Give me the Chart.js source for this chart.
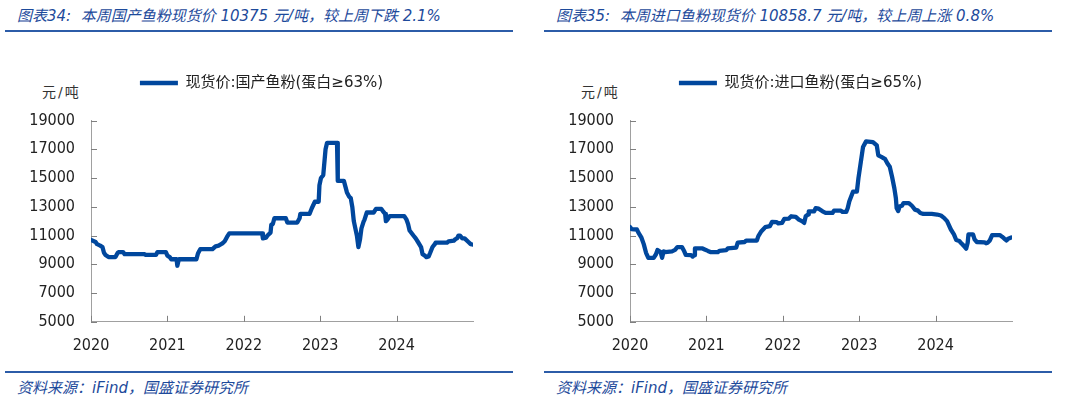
<!DOCTYPE html>
<html>
<head>
<meta charset="utf-8">
<script src="https://cdn.jsdelivr.net/npm/chart.js@4.4.1/dist/chart.umd.min.js"></script>
<style>
    body { margin: 0; background: #fff; width: 1065px; height: 398px; position: relative; overflow: hidden;
           font-family: "DejaVu Sans", "Noto Sans CJK SC", sans-serif; }
    .panel { position: absolute; top: 0; width: 530px; height: 398px; }
    .title { position: absolute; left: 17px; top: 4px; font-size: 15px; font-style: italic; color: #1d4a9b; white-space: nowrap; }
    .rule { position: absolute; left: 5px; width: 508px; height: 2px; background: #2c5ca8; }
    .unit { position: absolute; left: 42px; top: 81px; font-size: 14px; letter-spacing: 2px; color: #333; white-space: nowrap; }
    .source { position: absolute; left: 17px; top: 376px; font-size: 15px; font-style: italic; color: #1d4a9b; white-space: nowrap; }
    canvas { position: absolute; left: 0; top: 40px; }
</style>
</head>
<body>

<div class="panel" style="left:0">
    <div class="title">图表34:&nbsp; 本周国产鱼粉现货价 10375 元/吨，较上周下跌 2.1%</div>
    <div class="rule" style="top:30px"></div>
    <div class="unit">元/吨</div>
    <canvas id="leftChart" width="530" height="329"></canvas>
    <div class="rule" style="top:371px"></div>
    <div class="source">资料来源：iFind，国盛证券研究所</div>
</div>

<div class="panel" style="left:539px">
    <div class="title">图表35:&nbsp; 本周进口鱼粉现货价 10858.7 元/吨，较上周上涨 0.8%</div>
    <div class="rule" style="top:30px"></div>
    <div class="unit">元/吨</div>
    <canvas id="rightChart" width="530" height="329"></canvas>
    <div class="rule" style="top:371px"></div>
    <div class="source">资料来源：iFind，国盛证券研究所</div>
</div>

<script>
// tick labels
const yearTicks = [2020, 2021, 2022, 2023, 2024];
const priceTicks = [5000, 7000, 9000, 11000, 13000, 15000, 17000, 19000];

// domestic fish meal (protein >= 63%), dates as fractional years
const domesticDates = [
    2020.00, 2020.06, 2020.08, 2020.12, 2020.15, 2020.17, 2020.19, 2020.23, 2020.32, 2020.35,
    2020.37, 2020.42, 2020.44, 2020.70, 2020.72, 2020.85, 2020.87, 2020.98, 2021.00, 2021.03,
    2021.05, 2021.12, 2021.13, 2021.15, 2021.38, 2021.40, 2021.41, 2021.43, 2021.59, 2021.63,
    2021.67, 2021.72, 2021.75, 2021.78, 2021.81, 2022.24, 2022.25, 2022.29, 2022.31, 2022.35,
    2022.36, 2022.38, 2022.40, 2022.55, 2022.57, 2022.70, 2022.73, 2022.74, 2022.86, 2022.89,
    2022.93, 2022.98, 2022.99, 2023.01, 2023.04, 2023.07, 2023.09, 2023.22, 2023.23, 2023.31,
    2023.33, 2023.35, 2023.38, 2023.40, 2023.42, 2023.44, 2023.46, 2023.48, 2023.50, 2023.52,
    2023.54, 2023.57, 2023.58, 2023.61, 2023.70, 2023.73, 2023.80, 2023.82, 2023.85, 2023.86,
    2023.88, 2023.91, 2024.10, 2024.13, 2024.15, 2024.17, 2024.22, 2024.25, 2024.28, 2024.32,
    2024.34, 2024.37, 2024.39, 2024.42, 2024.44, 2024.47, 2024.50, 2024.51, 2024.66, 2024.68,
    2024.75, 2024.77, 2024.79, 2024.81, 2024.83, 2024.86, 2024.89, 2024.94, 2024.97, 2024.99
];
const domesticPrices = [
    10700, 10550, 10400, 10300, 10200, 9800, 9650, 9500, 9500, 9800,
    9850, 9850, 9700, 9700, 9650, 9650, 9850, 9850, 9600, 9500,
    9350, 9350, 8900, 9350, 9350, 9750, 9850, 10050, 10050, 10250,
    10300, 10450, 10600, 10900, 11150, 11150, 10800, 10850, 11000, 11200,
    11750, 11800, 12200, 12200, 11900, 11900, 12200, 12500, 12500, 12900,
    13350, 13350, 14500, 15000, 15200, 17000, 17450, 17450, 14800, 14800,
    14400, 14000, 13700, 13600, 13000, 12000, 11500, 11000, 10200, 10700,
    11500, 12000, 12100, 12600, 12600, 12850, 12850, 12700, 12500, 12000,
    12100, 12350, 12350, 12100, 11800, 11350, 11000, 10800, 10550, 10200,
    9700, 9600, 9500, 9550, 9800, 10200, 10400, 10500, 10500, 10600,
    10650, 10750, 10800, 11000, 11000, 10800, 10800, 10550, 10400, 10375
];

// imported fish meal (protein >= 65%)
const importDates = [
    2020.00, 2020.02, 2020.09, 2020.11, 2020.15, 2020.18, 2020.21, 2020.24, 2020.31, 2020.34,
    2020.36, 2020.40, 2020.42, 2020.44, 2020.46, 2020.55, 2020.59, 2020.62, 2020.68, 2020.71,
    2020.73, 2020.80, 2020.82, 2020.84, 2020.85, 2020.95, 2020.97, 2021.02, 2021.06, 2021.15,
    2021.17, 2021.26, 2021.28, 2021.39, 2021.41, 2021.50, 2021.52, 2021.66, 2021.68, 2021.72,
    2021.77, 2021.83, 2021.86, 2021.92, 2021.94, 2021.99, 2022.02, 2022.08, 2022.11, 2022.17,
    2022.21, 2022.25, 2022.28, 2022.30, 2022.33, 2022.34, 2022.41, 2022.43, 2022.47, 2022.52,
    2022.56, 2022.65, 2022.67, 2022.76, 2022.78, 2022.83, 2022.85, 2022.87, 2022.92, 2022.97,
    2022.99, 2023.05, 2023.09, 2023.18, 2023.23, 2023.25, 2023.29, 2023.34, 2023.37, 2023.40,
    2023.43, 2023.46, 2023.48, 2023.49, 2023.51, 2023.53, 2023.56, 2023.58, 2023.65, 2023.69,
    2023.73, 2023.77, 2023.80, 2023.84, 2023.95, 2024.02, 2024.07, 2024.11, 2024.15, 2024.20,
    2024.24, 2024.27, 2024.31, 2024.34, 2024.37, 2024.40, 2024.42, 2024.43, 2024.49, 2024.51,
    2024.54, 2024.64, 2024.66, 2024.68, 2024.71, 2024.74, 2024.84, 2024.87, 2024.90, 2024.93,
    2024.95, 2024.99
];
const importPrices = [
    11600, 11450, 11420, 11200, 10850, 10400, 9800, 9450, 9450, 9700,
    10000, 9850, 9450, 9900, 9850, 9900, 10000, 10200, 10200, 9900,
    9650, 9630, 9540, 9630, 10100, 10100, 10050, 9930, 9840, 9840,
    9930, 9980, 10100, 10160, 10500, 10550, 10650, 10650, 10960, 11300,
    11580, 11650, 11950, 11930, 11840, 11880, 12160, 12180, 12340, 12300,
    12110, 12000, 11880, 12340, 12460, 12680, 12680, 12910, 12870, 12680,
    12570, 12570, 12730, 12730, 12640, 12640, 12910, 13370, 14060, 14060,
    14980, 17160, 17550, 17500, 17270, 16580, 16470, 16310, 16010, 15780,
    15090, 14290, 13600, 12910, 12700, 13030, 13070, 13260, 13260, 13070,
    12800, 12730, 12570, 12500, 12500, 12460, 12390, 12230, 12000, 11420,
    11080, 10690, 10620, 10440, 10280, 10090, 10500, 11080, 11080, 10740,
    10550, 10530, 10460, 10500, 10660, 11030, 11030, 10920, 10780, 10660,
    10780, 10859
];

const lineBlue = '#00479d';
const axisGray = '#a0a0a0';
const textDark = '#222';
const tickFont = '"DejaVu Sans Condensed", "DejaVu Sans", sans-serif';

Chart.defaults.font.family = '"DejaVu Sans", "Noto Sans CJK SC", sans-serif';

// short tick marks pointing into the plot
const innerTicks = {
    id: 'innerTicks',
    beforeDatasetsDraw(chart) {
        const ctx = chart.ctx;
        const area = chart.chartArea;
        const x = chart.scales.x;
        const y = chart.scales.y;
        ctx.save();
        ctx.strokeStyle = '#808080';
        ctx.lineWidth = 1;
        ctx.beginPath();
        x.ticks.forEach(function(t) {
            const px = Math.round(x.getPixelForValue(t.value)) + 0.5;
            ctx.moveTo(px, area.bottom);
            ctx.lineTo(px, area.bottom - 6);
        });
        y.ticks.forEach(function(t) {
            const py = Math.round(y.getPixelForValue(t.value)) + 0.5;
            ctx.moveTo(area.left, py);
            ctx.lineTo(area.left + 6, py);
        });
        ctx.stroke();
        ctx.restore();
    }
};

// extra room under the legend, and nudge it right like the original
const legendGap = {
    id: 'legendGap',
    beforeInit(chart) {
        const fit = chart.legend.fit;
        chart.legend.fit = function() {
            fit.call(this);
            this.height += 20;
        };
    },
    afterLayout(chart) {
        chart.legend.left += 25;
        chart.legend.right += 25;
    }
};

function makeChart(id, label, dates, prices) {
    const points = dates.map(function(t, i) { return { x: t, y: prices[i] }; });
    return new Chart(document.getElementById(id), {
        type: 'line',
        data: {
            datasets: [{
                label: label,
                data: points,
                borderColor: lineBlue,
                backgroundColor: lineBlue,
                borderWidth: 4.3,
                pointRadius: 0,
                tension: 0,
                borderJoinStyle: 'round',
                borderCapStyle: 'round'
            }]
        },
        options: {
            responsive: false,
            animation: false,
            layout: { padding: { left: 0, right: 57, top: 25.5, bottom: 0 } },
            plugins: {
                legend: {
                    labels: {
                        usePointStyle: true,
                        pointStyle: 'line',
                        pointStyleWidth: 38,
                        boxWidth: 38,
                        padding: 10,
                        color: textDark,
                        font: { size: 15 }
                    }
                },
                tooltip: { enabled: false }
            },
            scales: {
                x: {
                    type: 'linear',
                    min: 2020,
                    max: 2025,
                    afterBuildTicks: function(s) { s.ticks = yearTicks.map(function(v) { return { value: v }; }); },
                    grid: { display: false, drawTicks: false },
                    border: { color: axisGray, width: 1 },
                    ticks: {
                        padding: 14, color: textDark, maxRotation: 0, autoSkip: false,
                        font: { size: 16, family: tickFont },
                        callback: function(v) { return String(v); }
                    }
                },
                y: {
                    min: 5000,
                    max: 19000,
                    afterBuildTicks: function(s) { s.ticks = priceTicks.map(function(v) { return { value: v }; }); },
                    afterFit: function(s) { s.width = 91; },
                    grid: { display: false, drawTicks: false },
                    border: { color: axisGray, width: 1 },
                    ticks: {
                        padding: 16, color: textDark,
                        font: { size: 16, family: tickFont },
                        callback: function(v) { return String(v); }
                    }
                }
            }
        },
        plugins: [innerTicks, legendGap]
    });
}

makeChart('leftChart', '现货价:国产鱼粉(蛋白≥63%)', domesticDates, domesticPrices);
makeChart('rightChart', '现货价:进口鱼粉(蛋白≥65%)', importDates, importPrices);
</script>
</body>
</html>
